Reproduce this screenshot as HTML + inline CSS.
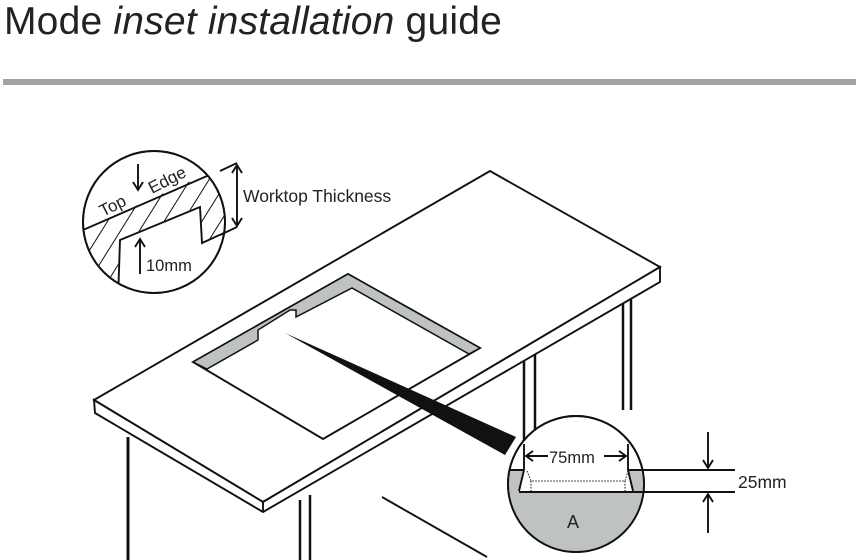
<!DOCTYPE html>
<html><head><meta charset="utf-8"><style>
html,body{margin:0;padding:0;background:#fff;}
body{width:856px;height:560px;overflow:hidden;position:relative;font-family:"Liberation Sans",sans-serif;}
h1{position:absolute;left:4px;top:0px;margin:0;font-weight:normal;font-size:39px;color:#222;letter-spacing:0.2px;}
.bar{position:absolute;left:3px;top:79px;width:853px;height:6px;background:#a3a3a3;}
svg{position:absolute;left:0;top:0;}
</style></head><body>
<h1>Mode <i>inset installation</i> guide</h1>
<div class="bar"></div>
<svg width="856" height="560" viewBox="0 0 856 560">
<defs>
<pattern id="h" patternUnits="userSpaceOnUse" width="16" height="16" patternTransform="rotate(32)">
<line x1="0" y1="0" x2="0" y2="16" stroke="#111" stroke-width="2"/>
</pattern>
<clipPath id="c1"><circle cx="154" cy="222" r="71"/></clipPath>
<clipPath id="c2"><circle cx="576" cy="484" r="68"/></clipPath>
</defs>
<g stroke="#111" stroke-width="1.9" fill="none">
<line x1="128" y1="437" x2="128" y2="560" stroke-width="3"/>
<line x1="300" y1="500" x2="300" y2="560" stroke-width="2.5"/>
<line x1="310" y1="495" x2="310" y2="560" stroke-width="2.5"/>
<line x1="524" y1="358" x2="524" y2="447" stroke-width="2.5"/>
<line x1="535" y1="352" x2="535" y2="447" stroke-width="2.5"/>
<line x1="623" y1="300" x2="623" y2="410" stroke-width="2.5"/>
<line x1="631" y1="296" x2="631" y2="410" stroke-width="2.5"/>
<line x1="382" y1="497" x2="487" y2="557"/>
<polygon points="94,400 490,171 660,267 263,502" fill="#fff"/>
<polygon points="94,400 263,502 660,267 660,282 263,512 95,413" fill="#fff"/>
<line x1="263" y1="502" x2="263" y2="512"/>
<polygon points="348,274 480,348 323,439 193,362" fill="#fff"/>
<polygon points="348,274 480,348 469,354 352,288 296,317 296,310 290,310 258,330 258,340 207,369 193,362" fill="#bfc3c0" stroke-width="1.5"/>
<polygon points="285,333 516,437 505,455" fill="#111" stroke="none"/>
<circle cx="576" cy="484" r="68" fill="#fff"/>
<g clip-path="url(#c2)">
<rect x="500" y="470" width="160" height="100" fill="#bfc3c0" stroke="none"/>
<polygon points="524,470 628,470 633,491 519,491" fill="#fff" stroke="none"/>
<line x1="500" y1="470" x2="524" y2="470"/>
<line x1="628" y1="470" x2="660" y2="470"/>
<line x1="524" y1="470" x2="519" y2="491"/>
<line x1="628" y1="470" x2="633" y2="491"/>
<polyline points="527,471 531,481 625,481 628,471" stroke-dasharray="1.5,1.5" stroke-width="1"/>
<line x1="531" y1="481" x2="531" y2="491" stroke-dasharray="1.5,1.5" stroke-width="1"/>
<line x1="625" y1="481" x2="625" y2="491" stroke-dasharray="1.5,1.5" stroke-width="1"/>
</g>
<circle cx="576" cy="484" r="68"/>
<line x1="519" y1="492" x2="735" y2="492"/>
<line x1="640" y1="470" x2="735" y2="470"/>
<line x1="524" y1="444" x2="524" y2="470"/>
<line x1="628" y1="444" x2="628" y2="470"/>
<line x1="526" y1="456" x2="548" y2="456"/><polyline points="533,451 526,456 533,461"/>
<line x1="604" y1="456" x2="626" y2="456"/><polyline points="619,451 626,456 619,461"/>
<line x1="708" y1="432" x2="708" y2="468"/><polyline points="703,460 708,468 713,460"/>
<line x1="708" y1="494" x2="708" y2="533"/><polyline points="703,502 708,494 713,502"/>
<circle cx="154" cy="222" r="71" fill="#fff"/>
<g clip-path="url(#c1)">
<polygon points="60,240 237,160 237,227 202,243 200,207 120,240 118,300 60,300" fill="url(#h)" stroke="none"/>
<polyline points="60,240 237,163"/>
<polyline points="237,227 202,243 200,207 120,240 118,300"/>
</g>
<circle cx="154" cy="222" r="71"/>
<line x1="220" y1="171" x2="237" y2="163"/>
<line x1="220" y1="235" x2="237" y2="227"/>
<line x1="237" y1="165" x2="237" y2="226"/><polyline points="232,173 237,165 242,173"/><polyline points="232,218 237,226 242,218"/>
<line x1="138" y1="164" x2="138" y2="190"/><polyline points="133,182 138,190 143,182"/>
<line x1="140" y1="239" x2="140" y2="274"/><polyline points="135,247 140,239 145,247"/>
</g>
<g font-family="Liberation Sans, sans-serif" fill="#222">
<text x="103" y="217" font-size="17" transform="rotate(-27 103 217)">Top</text>
<text x="152" y="194" font-size="17" transform="rotate(-27 152 194)">Edge</text>
<text x="243" y="202" font-size="17.5">Worktop Thickness</text>
<text x="146" y="271" font-size="16.5">10mm</text>
<text x="549" y="463" font-size="16.5">75mm</text>
<text x="738" y="488" font-size="17.5">25mm</text>
<text x="567" y="528" font-size="18">A</text>
</g>
</svg>
</body></html>
